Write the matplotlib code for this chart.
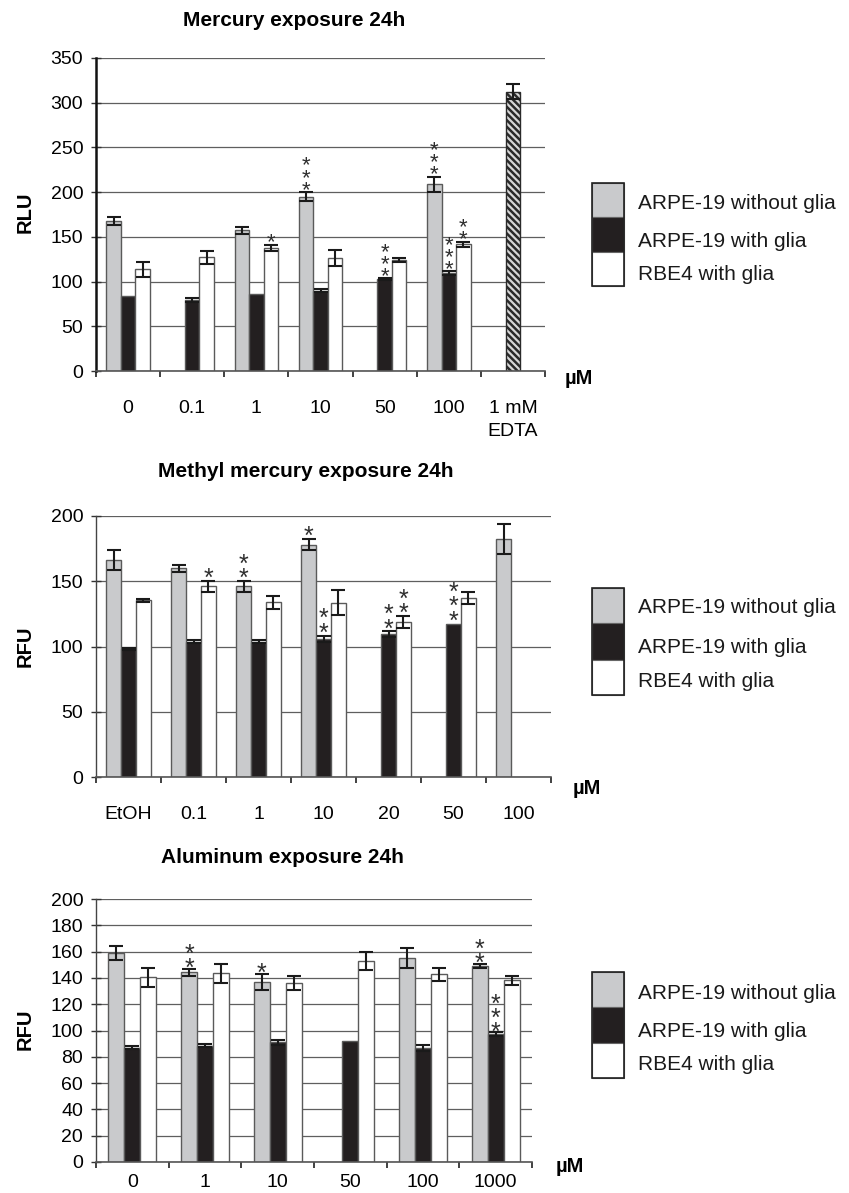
import matplotlib
matplotlib.use('Agg')
import matplotlib.pyplot as plt
import numpy as np
from matplotlib.patches import Rectangle

plt.rcParams['font.family'] = ['Liberation Sans', 'DejaVu Sans']
plt.rcParams['hatch.linewidth'] = 1.8

nan = np.nan

series = ['ARPE-19 without glia', 'ARPE-19 with glia', 'RBE4 with glia']
colors = ['#c9cacc', '#231f20', '#ffffff']

# ---------------- Mercury exposure 24h (RLU) ----------------
hg_title = 'Mercury exposure 24h'
hg_cats = ['0', '0.1', '1', '10', '50', '100', '1 mM\nEDTA']
hg_gray = [168, nan, 157.5, 195, nan, 209, nan]
hg_gray_err = [4.7, 0, 3.9, 5, 0, 8.4, 0]
hg_black = [84, 79.5, 86, 90, 102.5, 109.5, nan]
hg_black_err = [0, 2.6, 0, 1.7, 1, 1.9, 0]
hg_white = [114, 127, 138, 126, 124.5, 142, nan]
hg_white_err = [8.4, 7.5, 3.4, 9, 2.2, 2.8, 0]
hg_edta = 312.5
hg_edta_err = 8.2
hg_stars_gray = [0, 0, 0, 3, 0, 3, 0]
hg_stars_black = [0, 0, 0, 0, 3, 3, 0]
hg_stars_white = [0, 0, 1, 0, 0, 2, 0]
hg_yticks = [0, 50, 100, 150, 200, 250, 300, 350]

# ---------------- Methyl mercury exposure 24h (RFU) ----------------
mehg_title = 'Methyl mercury exposure 24h'
mehg_cats = ['EtOH', '0.1', '1', '10', '20', '50', '100']
mehg_gray = [166, 160, 146, 178, nan, nan, 182.5]
mehg_gray_err = [7.7, 2.7, 4.5, 4.4, 0, 0, 11.4]
mehg_black = [98, 103.7, 103.7, 106, 109.4, 117.6, nan]
mehg_black_err = [0.5, 1.4, 1.4, 2.4, 2.3, 0, 0]
mehg_white = [135.5, 146, 134, 133.6, 119, 137.4, nan]
mehg_white_err = [1.2, 4.5, 4.9, 9.6, 4.5, 4.5, 0]
mehg_stars_gray = [0, 0, 2, 1, 0, 0, 0]
mehg_stars_black = [0, 0, 0, 2, 2, 3, 0]
mehg_stars_white = [0, 1, 0, 0, 2, 0, 0]
mehg_yticks = [0, 50, 100, 150, 200]

# ---------------- Aluminum exposure 24h (RFU) ----------------
al_title = 'Aluminum exposure 24h'
al_cats = ['0', '1', '10', '50', '100', '1000']
al_gray = [159, 144.2, 137, nan, 155.4, 149.2]
al_gray_err = [5.6, 2.5, 6.1, 0, 7.6, 1.6]
al_black = [87, 88.3, 91, 91.7, 86.4, 97]
al_black_err = [1, 1.1, 1.9, 0, 2.3, 1.5]
al_white = [140.4, 143.4, 136.4, 152.8, 142.8, 138.3]
al_white_err = [7.4, 7.4, 5.3, 6.6, 4.9, 3.4]
al_stars_gray = [0, 2, 1, 0, 0, 2]
al_stars_black = [0, 0, 0, 0, 0, 3]
al_stars_white = [0, 0, 0, 0, 0, 0]
al_yticks = list(range(0, 201, 20))

W, H = 849, 1193
fig = plt.figure(figsize=(W / 100, H / 100), dpi=100)


def fx(px):
    return px / W


def fy(py):
    return 1 - py / H


def axes_px(left, top, right, bottom):
    return fig.add_axes([fx(left), fy(bottom), (right - left) / W, (bottom - top) / H])


def draw_chart(ax, cats, vals, errs, stars, yticks, width, label_pad,
               star_fs, star_ls, star_off, left_spine_w=1.0, left_spine_c='#444444'):
    n = len(cats)
    x = np.arange(n)
    for i in range(3):
        xi = x + (i - 1) * width
        v = np.array(vals[i], float)
        e = np.array(errs[i], float)
        m = ~np.isnan(v)
        ax.bar(xi[m], v[m], width, color=colors[i], edgecolor='#5a5a5a',
               linewidth=1.0, zorder=2)
        em = m & (e > 0)
        ax.errorbar(xi[em], v[em], yerr=e[em], fmt='none', ecolor='#1a1a1a',
                    elinewidth=1.5, capsize=4.7, capthick=1.5, zorder=3)
        for j in range(n):
            if m[j] and stars[i][j] > 0:
                top = v[j] + e[j]
                ax.annotate('\n'.join(['*'] * stars[i][j]), xy=(xi[j], top),
                            xytext=(0, star_off), textcoords='offset points',
                            ha='center', va='bottom', fontsize=star_fs,
                            linespacing=star_ls, color='#2e2e2e', zorder=4)
    ax.set_xlim(-0.5, n - 0.5)
    ax.set_ylim(0, yticks[-1])
    ax.set_yticks(yticks)
    ax.set_yticklabels([str(t) for t in yticks], fontsize=14)
    ax.yaxis.grid(True, color='#5f5f5f', linewidth=0.9)
    ax.set_axisbelow(True)
    ax.set_xticks(x)
    ax.set_xticklabels(cats, fontsize=14)
    for t in ax.get_xticklabels():
        t.set_linespacing(1.45)
    ax.set_xticks(np.arange(-0.5, n, 1.0), minor=True)
    ax.tick_params(axis='x', which='major', length=0, pad=label_pad)
    ax.tick_params(axis='x', which='minor', length=4, width=1.3, direction='out',
                   color='#333333')
    ax.tick_params(axis='y', which='major', length=6.5, width=1.0,
                   direction='inout', pad=6, color='#333333')
    for s in ['top', 'right']:
        ax.spines[s].set_visible(False)
    ax.spines['left'].set_linewidth(left_spine_w)
    ax.spines['left'].set_color(left_spine_c)
    ax.spines['bottom'].set_linewidth(1.2)
    ax.spines['bottom'].set_color('#555555')
    return x


def legend_block(top, bottoms, text_ys):
    y0 = top
    for i in range(3):
        y1 = bottoms[i]
        fig.patches.append(Rectangle((fx(592), fy(y1)), 32 / W, (y1 - y0) / H,
                                     transform=fig.transFigure, facecolor=colors[i],
                                     edgecolor='#666666', linewidth=0.8))
        y0 = y1
    fig.patches.append(Rectangle((fx(592), fy(bottoms[-1])), 32 / W, (bottoms[-1] - top) / H,
                                 transform=fig.transFigure, facecolor='none',
                                 edgecolor='#222222', linewidth=1.2))
    for i in range(3):
        fig.text(fx(638), fy(text_ys[i] + 7.3), series[i], fontsize=15,
                 ha='left', va='baseline', color='#1a1a1a')


# ---- Chart 1 ----
ax1 = axes_px(96, 58, 545, 371)
x1 = draw_chart(ax1, hg_cats, [hg_gray, hg_black, hg_white],
                [hg_gray_err, hg_black_err, hg_white_err],
                [hg_stars_gray, hg_stars_black, hg_stars_white],
                hg_yticks, 0.226, 21, 16, 0.44, -6.2,
                left_spine_w=1.8, left_spine_c='#111111')
ax1.bar([x1[-1]], [hg_edta], 0.226, color='#d8d8d8', edgecolor='#2a2a2a',
        hatch='\\\\\\\\\\', linewidth=1.0, zorder=2)
ax1.errorbar([x1[-1]], [hg_edta], yerr=[hg_edta_err], fmt='none', ecolor='#1a1a1a',
             elinewidth=1.5, capsize=4.7, capthick=1.5, zorder=3)

# ---- Chart 2 ----
ax2 = axes_px(96, 516, 551, 777)
draw_chart(ax2, mehg_cats, [mehg_gray, mehg_black, mehg_white],
           [mehg_gray_err, mehg_black_err, mehg_white_err],
           [mehg_stars_gray, mehg_stars_black, mehg_stars_white],
           mehg_yticks, 0.226, 21, 18, 0.5, -7.4)

# ---- Chart 3 ----
ax3 = axes_px(96, 899, 532, 1162)
draw_chart(ax3, al_cats, [al_gray, al_black, al_white],
           [al_gray_err, al_black_err, al_white_err],
           [al_stars_gray, al_stars_black, al_stars_white],
           al_yticks, 0.22, 8.5, 18, 0.48, -8.8)

# Titles
fig.text(fx(294), fy(26), hg_title, fontsize=15, fontweight='bold', ha='center', va='baseline')
fig.text(fx(306), fy(477), mehg_title, fontsize=15, fontweight='bold', ha='center', va='baseline')
fig.text(fx(282), fy(863), al_title, fontsize=15, fontweight='bold', ha='center', va='baseline')

# Y labels
fig.text(fx(25), fy(212), 'RLU', fontsize=14.5, fontweight='bold', rotation=90, ha='center', va='center')
fig.text(fx(25), fy(646), 'RFU', fontsize=14.5, fontweight='bold', rotation=90, ha='center', va='center')
fig.text(fx(25), fy(1029), 'RFU', fontsize=14.5, fontweight='bold', rotation=90, ha='center', va='center')

# Units
fig.text(fx(565), fy(384), 'µM', fontsize=14.5, fontweight='bold', ha='left', va='baseline')
fig.text(fx(573), fy(794), 'µM', fontsize=14.5, fontweight='bold', ha='left', va='baseline')
fig.text(fx(556), fy(1172), 'µM', fontsize=14.5, fontweight='bold', ha='left', va='baseline')

# Legends
legend_block(183, [217, 252, 286], [202, 240, 273])
legend_block(588, [623, 660, 695], [606, 646, 680])
legend_block(972, [1007, 1043, 1078], [992, 1030, 1063])

fig.savefig('out.png', dpi=100)
